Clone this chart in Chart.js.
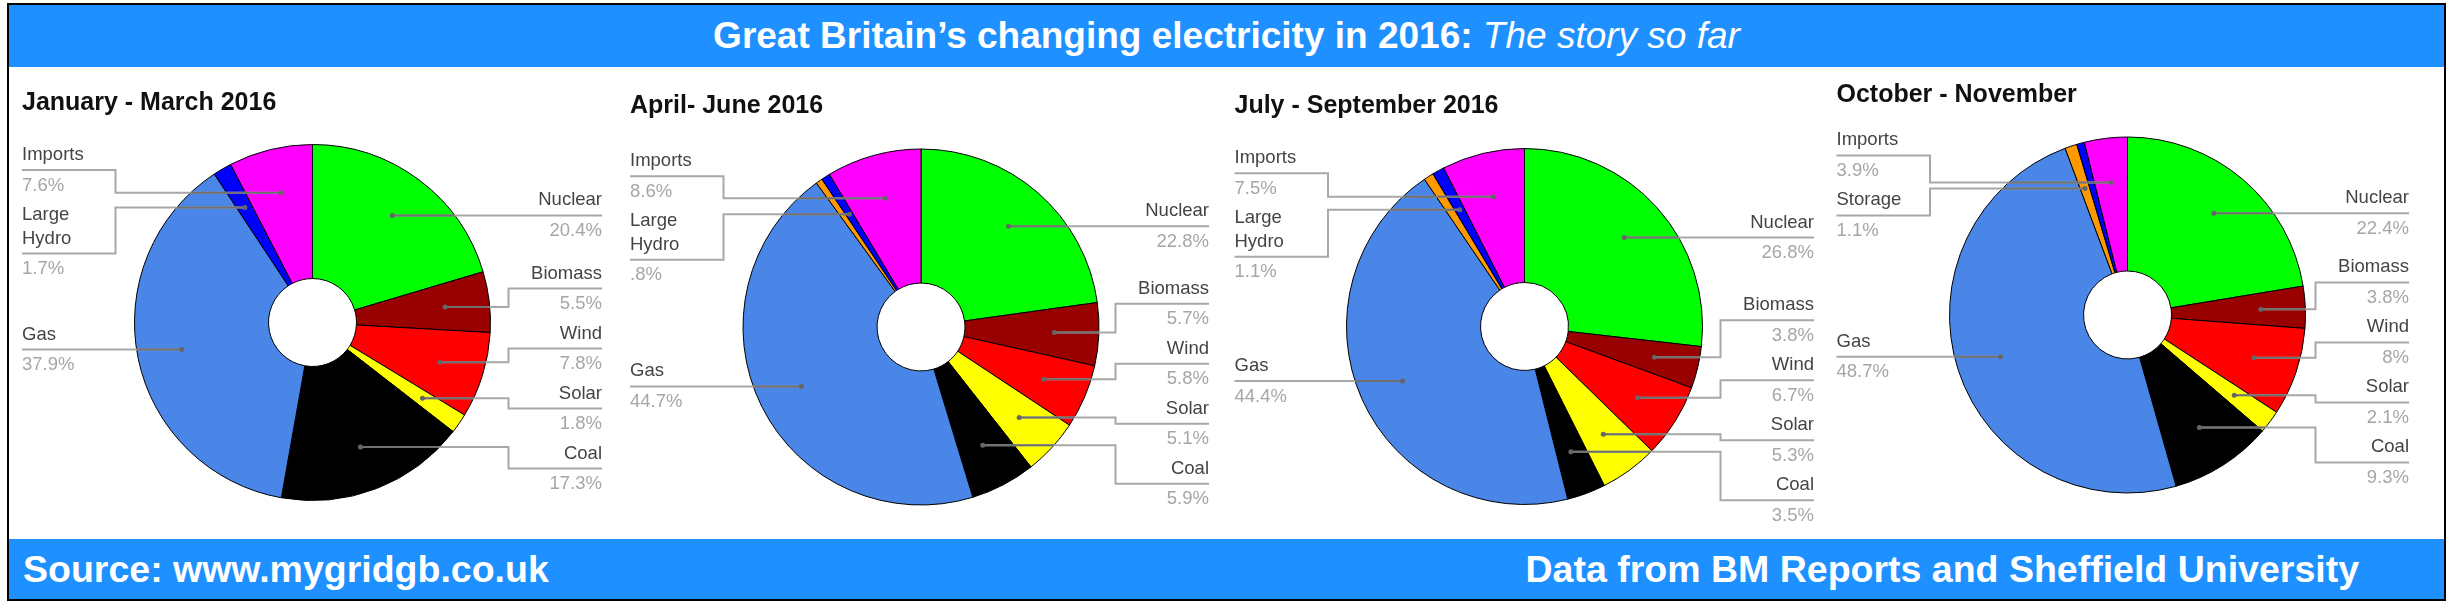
<!DOCTYPE html>
<html>
<head>
<meta charset="utf-8">
<title>Great Britain's changing electricity in 2016</title>
<script src="https://cdn.jsdelivr.net/npm/chart.js@4.4.1/dist/chart.umd.min.js"></script>
<style>
  html, body { margin: 0; padding: 0; background: #fff; }
  body { width: 2449px; height: 615px; position: relative; overflow: hidden;
         font-family: "Liberation Sans", Arial, sans-serif; }
  #frame { position: absolute; left: 7px; top: 3px; width: 2435px; height: 594px;
           border: 2px solid #000; }
  .band { position: absolute; left: 9px; width: 2435px; background: #1e90ff; color: #fff;
          font-weight: bold; white-space: nowrap; }
  #head { top: 5px; height: 62px; line-height: 62px; font-size: 37px; text-align: center; }
  #head i { font-weight: normal; }
  #foot { top: 539px; height: 60px; line-height: 60px; font-size: 37.5px; }
  #foot .l { position: absolute; left: 14px; }
  #foot .r { position: absolute; right: 85px; }
  canvas { position: absolute; top: 66px; }
</style>
</head>
<body>
<div id="frame"></div>
<div class="band" id="head">Great Britain’s changing electricity in 2016: <i>The story so far</i></div>
<canvas id="q1"></canvas>
<canvas id="q2"></canvas>
<canvas id="q3"></canvas>
<canvas id="q4"></canvas>
<div class="band" id="foot"><span class="l">Source: www.mygridgb.co.uk</span><span class="r">Data from BM Reports and Sheffield University</span></div>

<script>
/* DATA (% share of generation, clockwise from 12 o'clock) */

const sources = ["Nuclear", "Biomass", "Wind", "Solar", "Coal", "Gas", "Storage", "Large Hydro", "Imports"];

const periods = ["January - March 2016", "April- June 2016", "July - September 2016", "October - November"];

const janMar = [20.4, 5.5, 7.8, 1.8, 17.3, 37.9, 0, 1.7, 7.6];
const aprJun = [22.8, 5.7, 5.8, 5.1, 5.9, 44.7, 0.6, 0.8, 8.6];
const julSep = [26.8, 3.8, 6.7, 5.3, 3.5, 44.4, 0.9, 1.1, 7.5];
const octNov = [22.4, 3.8, 8, 2.1, 9.3, 48.7, 1.1, 0.7, 3.9];

/* slices that carry no callout in the original */
const unlabelled = [["Storage"], ["Storage"], ["Storage"], ["Large Hydro"]];

/* STYLE */

const sliceColours = ["#00ff00", "#990000", "#ff0000", "#ffff00", "#000000",
                      "#4a86e8", "#ff9900", "#0000ff", "#ff00ff"];

const FONT = '"Liberation Sans", Arial, sans-serif';
const LABEL_FONT = "18.5px " + FONT;
const TITLE_FONT = "bold 25px " + FONT;

const R = 178;            // pie radius
const TOP = 66;           // canvas top on the page
const HEIGHT = 473;
const ELBOW = 93.5;       // leader bend, measured from the label column edge
const ABOVE = 22, BELOW = 22, LINE_H = 23.5, GAP = 16;

/* PANEL LAYOUT (page pixels) */

const panels = [
  { id: "q1", colLeft: 22,     colRight: 602,  cx: 312.5,  cy: 322.5, titleY: 110 },
  { id: "q2", colLeft: 630,    colRight: 1209, cx: 921,    cy: 327,   titleY: 113 },
  { id: "q3", colLeft: 1234.5, colRight: 1814, cx: 1524.5, cy: 326.5, titleY: 112.5 },
  { id: "q4", colLeft: 1836.5, colRight: 2409, cx: 2127.5, cy: 315,   titleY: 101.5 }
];

const series = [janMar, aprJun, julSep, octNov];

/* HELPERS */

function pct(v) {
  return String(v).replace(/^0\./, ".") + "%";
}

function wrapText(ctx, text, maxW) {
  const out = [];
  let cur = "";
  text.split(" ").forEach(w => {
    const t = cur ? cur + " " + w : w;
    if (cur && ctx.measureText(t).width > maxW) {
      out.push(cur);
      cur = w;
    } else {
      cur = t;
    }
  });
  out.push(cur);
  return out;
}

function settle(g) {
  let off = 0, sum = 0;
  g.items.forEach(it => {
    sum += it.want - off;
    off += it.h + GAP;
  });
  g.top = sum / g.items.length;
  g.size = off - GAP;
  return g;
}

/* stack callouts on one side so they do not overlap */
function spread(items) {
  items.sort((a, b) => a.ay - b.ay);
  items.forEach(it => {
    it.above = ABOVE + LINE_H * (it.lines.length - 1);
    it.h = it.above + BELOW;
    it.want = it.ay - ABOVE;
  });
  const groups = [];
  items.forEach(it => {
    groups.push(settle({ items: [it] }));
    while (groups.length > 1) {
      const b = groups[groups.length - 1];
      const a = groups[groups.length - 2];
      if (a.top + a.size + GAP <= b.top) break;
      groups.pop();
      a.items = a.items.concat(b.items);
      settle(a);
    }
  });
  groups.forEach(g => {
    let y = g.top;
    g.items.forEach(it => {
      it.line = y + it.above;
      y += it.h + GAP;
    });
  });
  return items;
}

/* CALLOUT PLUGIN: panel title, labels, leader lines */

const callouts = {
  id: "callouts",
  afterDatasetsDraw(chart, args, opts) {
    const ctx = chart.ctx;
    const values = chart.data.datasets[0].data;
    const sides = { left: [], right: [] };
    let cx = 0, cy = 0, rOut = 0;

    ctx.save();

    ctx.font = TITLE_FONT;
    ctx.fillStyle = "#111";
    ctx.textAlign = "left";
    ctx.textBaseline = "alphabetic";
    ctx.fillText(opts.title, opts.colLeft, opts.titleY);

    ctx.font = LABEL_FONT;

    chart.getDatasetMeta(0).data.forEach((arc, i) => {
      const name = chart.data.labels[i];
      const a = arc.getProps(["x", "y", "startAngle", "endAngle", "outerRadius"], true);
      cx = a.x; cy = a.y; rOut = a.outerRadius;
      if (!values[i] || opts.hide.includes(name)) return;
      const mid = (a.startAngle + a.endAngle) / 2;
      const ax = a.x + Math.cos(mid) * a.outerRadius * 0.75;
      const ay = a.y + Math.sin(mid) * a.outerRadius * 0.75;
      sides[ax < a.x ? "left" : "right"].push({
        ax, ay,
        lines: wrapText(ctx, name, ELBOW - 4),
        value: pct(values[i])
      });
    });

    ["left", "right"].forEach(side => {
      const edge = side === "left" ? opts.colLeft : opts.colRight;
      const elbow = side === "left" ? edge + ELBOW : edge - ELBOW;
      ctx.textAlign = side;

      spread(sides[side]).forEach(it => {
        const path = new Path2D();
        path.moveTo(edge, it.line);
        path.lineTo(elbow, it.line);
        path.lineTo(elbow, it.ay);
        path.lineTo(it.ax, it.ay);

        ctx.lineWidth = 2;
        ctx.strokeStyle = "#a8a8a8";
        ctx.stroke(path);

        ctx.save();
        ctx.beginPath();
        ctx.arc(cx, cy, rOut, 0, Math.PI * 2);
        ctx.clip();
        ctx.strokeStyle = "#707070";
        ctx.stroke(path);
        ctx.restore();

        ctx.fillStyle = "#666";
        ctx.beginPath();
        ctx.arc(it.ax, it.ay, 2.5, 0, Math.PI * 2);
        ctx.fill();

        ctx.fillStyle = "#444";
        it.lines.forEach((t, k) => {
          ctx.fillText(t, edge, it.line - 10 - LINE_H * (it.lines.length - 1 - k));
        });

        ctx.fillStyle = "#a6a6a6";
        ctx.fillText(it.value, edge, it.line + 20.5);
      });
    });

    ctx.restore();
  }
};

/* CREATE CHARTS */

panels.forEach((p, n) => {
  const cv = document.getElementById(p.id);
  const left = Math.floor(p.colLeft) - 10;
  const width = Math.ceil(p.colRight) + 10 - left;
  cv.width = width;
  cv.height = HEIGHT;
  cv.style.left = left + "px";
  cv.style.width = width + "px";
  cv.style.height = HEIGHT + "px";

  const lx = p.cx - left;
  const ly = p.cy - TOP;

  new Chart(cv, {
    type: "doughnut",
    data: {
      labels: sources,
      datasets: [{
        data: series[n],
        backgroundColor: sliceColours,
        borderColor: "#000",
        borderWidth: 1
      }]
    },
    options: {
      responsive: false,
      animation: false,
      events: [],
      radius: R,
      cutout: "24.7%",
      layout: {
        padding: { left: lx - R, right: width - lx - R, top: ly - R, bottom: HEIGHT - ly - R }
      },
      plugins: {
        legend: { display: false },
        tooltip: { enabled: false },
        callouts: {
          title: periods[n],
          titleY: p.titleY - TOP,
          colLeft: p.colLeft - left,
          colRight: p.colRight - left,
          hide: unlabelled[n]
        }
      }
    },
    plugins: [callouts]
  });
});
</script>
</body>
</html>
